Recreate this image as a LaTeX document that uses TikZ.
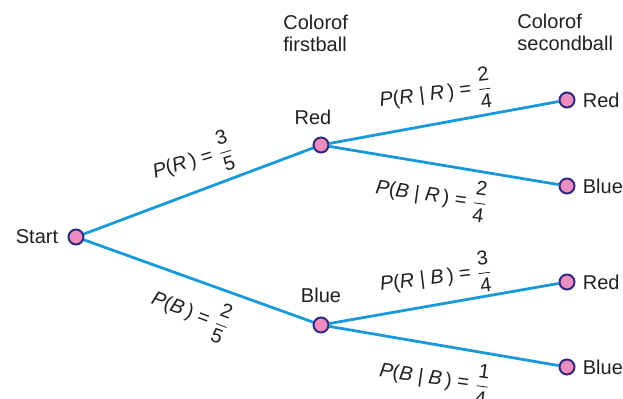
\documentclass[tikz,border=0pt]{standalone}
\usepackage{amsmath}
\usepackage{fontspec}
\setmainfont{Liberation Sans}
\usetikzlibrary{positioning}
\definecolor{branchblue}{HTML}{1799DA}
\definecolor{ballpink}{HTML}{EE8BBF}
\definecolor{balledge}{HTML}{2E2A7E}
\definecolor{inkgray}{HTML}{231F20}

\begin{document}
\begin{tikzpicture}[
    x=0.5pt, y=-0.5pt,
    ball/.style={circle, draw=balledge, fill=ballpink, line width=1pt, minimum size=7.5pt, inner sep=0pt},
    branch/.style={draw=branchblue, line width=1.4pt},
    lbl/.style={font=\fontsize{10}{11}\selectfont, text=inkgray, inner sep=0pt},
    head/.style={lbl, align=left, anchor=north west},
]
    \useasboundingbox (0,0) rectangle (623,399);

    % column headings
    \node[head] (firsthead) at (283,15) {Colorof\\firstball};
    \node[head] (secondhead) at (517,14) {Colorof\\secondball};

    % balls
    \node[ball] (start) at (76,237) {};
    \node[ball] (red) at (321,145) {};
    \node[ball] (blue) at (321,325) {};
    \node[ball] (redred) at (567,100) {};
    \node[ball] (redblue) at (567,186) {};
    \node[ball] (bluered) at (567,282) {};
    \node[ball] (blueblue) at (567,367) {};

    \node[lbl, left=4.5pt of start] (startlbl) {Start};
    \node[lbl, above=5.5pt of red, xshift=-4pt] (redlbl) {Red};
    \node[lbl, above=6.5pt of blue] (bluelbl) {Blue};
    \node[lbl, right=3.5pt of redred] (redredlbl) {Red};
    \node[lbl, right=3.5pt of redblue] (redbluelbl) {Blue};
    \node[lbl, right=3.5pt of bluered] (blueredlbl) {Red};
    \node[lbl, right=3.5pt of blueblue] (blueblueblbl) {Blue};

    % branches
    \draw[branch] (start) -- (red);
    \draw[branch] (start) -- (blue);
    \draw[branch] (red) -- (redred);
    \draw[branch] (red) -- (redblue);
    \draw[branch] (blue) -- (bluered);
    \draw[branch] (blue) -- (blueblue);

    % probabilities
    \node[lbl, rotate=17] (pr) at (193,160) {\textit{P}(\textit{R}\,) = $\dfrac{\mbox{3}}{\mbox{5}}$};
    \node[lbl, rotate=-21] (pb) at (191,312) {\textit{P}(\textit{B}\,) = $\dfrac{\mbox{2}}{\mbox{5}}$};
    \node[lbl, rotate=7] (prr) at (436,93) {\textit{P}(\textit{R} | \textit{R}\,) = $\dfrac{\mbox{2}}{\mbox{4}}$};
    \node[lbl, rotate=-8] (pbr) at (432,195) {\textit{P}(\textit{B} | \textit{R}\,) = $\dfrac{\mbox{2}}{\mbox{4}}$};
    \node[lbl, rotate=7] (prb) at (436,277) {\textit{P}(\textit{R} | \textit{B}\,) = $\dfrac{\mbox{3}}{\mbox{4}}$};
    \node[lbl, rotate=-8] (pbb) at (435,378) {\textit{P}(\textit{B} | \textit{B}\,) = $\dfrac{\mbox{1}}{\mbox{4}}$};
\end{tikzpicture}
\end{document}
